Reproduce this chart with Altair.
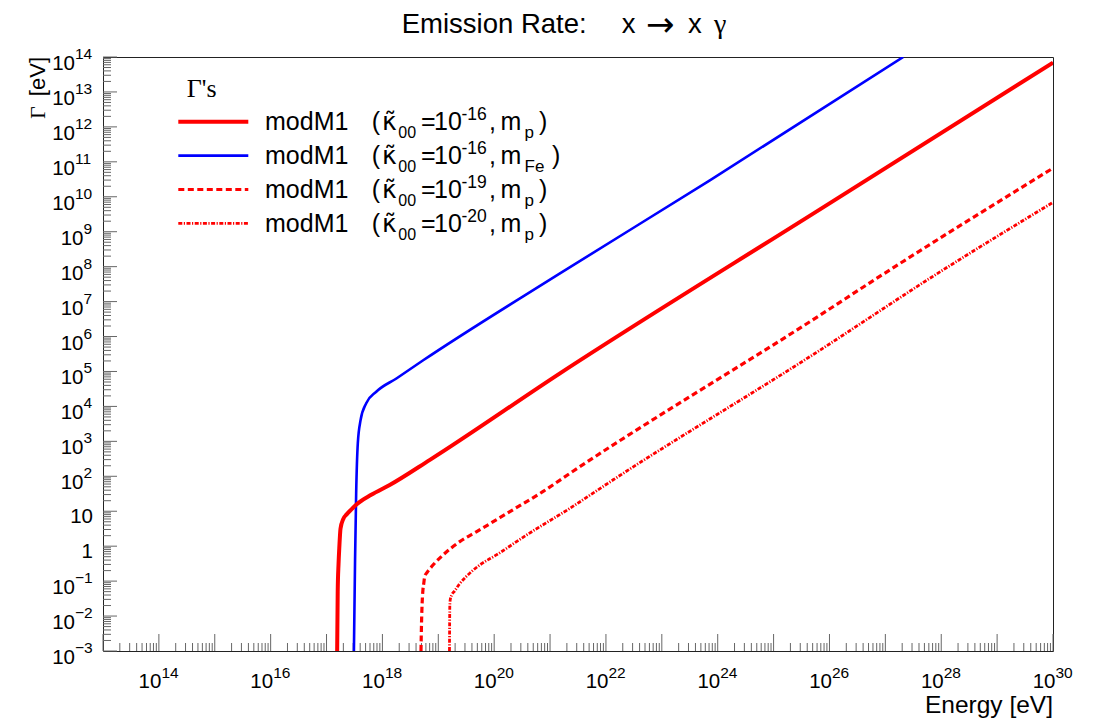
import altair as alt
import pandas as pd

# ---------------- values ----------------
# modM1 (kappa00 = 1e-16, m_p)  -- red solid
red16_E = [1.549e17, 1.585e17, 1.641e17, 1.698e17, 1.778e17, 1.995e17, 2.291e17, 2.818e17,
           3.467e17, 6.31e17, 1.349e18, 7.08e18, 1.479e21, 6.76e25, 1.0e30]
red16_G = [1e-3, 0.05, 0.316, 1.0, 3.16, 6.03, 8.13, 11.5, 15.8, 29.5, 56.2, 295, 8.71e4, 4.37e9, 6.92e13]
# modM1 (kappa00 = 1e-16, m_Fe) -- blue
fe16_E = [3.09e17, 3.24e17, 3.39e17, 3.63e17, 4.07e17, 5.13e17, 7.76e17, 1.78e18, 5.37e18,
          1.48e21, 7.24e23, 2.09e27]
fe16_G = [1e-3, 0.40, 31.6, 891, 4.07e3, 1.23e4, 2.63e4, 6.31e4, 2.09e5, 6.31e7, 2.95e10, 1e14]
# modM1 (kappa00 = 1e-19, m_p) -- red dashed
red19_E = [4.90e18, 5.01e18, 5.15e18, 5.31e18, 5.50e18, 5.71e18, 6.31e18, 7.08e18, 8.04e18,
           1.22e19, 2.42e19, 4.79e19, 1.91e20, 7.41e20, 2.24e21, 6.76e25, 6.92e26, 1e30]
red19_G = [1e-3, 6.3e-3, 2.51e-2, 5.62e-2, 8.71e-2, 0.135, 0.178, 0.226, 0.288, 0.562, 1.35, 2.57,
           9.77, 36.3, 120, 4.07e6, 4.57e7, 6.6e10]
# modM1 (kappa00 = 1e-20, m_p) -- red dash-dot
red20_E = [1.585e19, 1.596e19, 1.607e19, 1.641e19, 1.738e19, 1.968e19, 2.399e19, 3.162e19,
           5.495e19, 1.096e20, 3.802e20, 2.239e21, 1.349e22, 6.761e25, 6.166e27, 1e30]
red20_G = [1e-3, 6.3e-3, 2.0e-2, 3.02e-2, 3.98e-2, 5.25e-2, 8.32e-2, 0.135, 0.288, 0.562, 2.09,
           12.0, 79.4, 4.07e5, 4.57e7, 6.92e9]

x_label_exps = [14, 16, 18, 20, 22, 24, 26, 28, 30]
y_label_exps = list(range(-3, 15))
legend_kappa_exp = ["-16", "-16", "-19", "-20"]
legend_mass = ["p", "Fe", "p", "p"]

# ---------------- layout ----------------
W, H = 950, 594
OX, OY = 103, 57
SANS = "Liberation Sans"
SERIF = "Liberation Serif"
xs = alt.Scale(type="log", domain=[1e13, 1e30], nice=False)
ys = alt.Scale(type="log", domain=[1e-3, 1e14], nice=False)


def XE():
    return alt.X("E:Q", scale=xs, axis=None)


def YG():
    return alt.Y("G:Q", scale=ys, axis=None)


def px_text(rows, font=SANS, **kw):
    df = pd.DataFrame(rows, columns=["text", "px", "py", "size"])
    df["px"] = df["px"] - OX
    df["py"] = df["py"] - OY
    return alt.Chart(df).mark_text(font=font, baseline="alphabetic", color="black", **kw).encode(
        x=alt.X("px:Q", scale=None, axis=None),
        y=alt.Y("py:Q", scale=None, axis=None),
        text="text:N",
        size=alt.Size("size:Q", scale=None, legend=None),
    )


layers = []

# ticks (inside the frame)
maj_x = pd.DataFrame({"E": [10.0 ** k for k in range(13, 31)]})
min_x = pd.DataFrame({"E": [m * 10.0 ** k for k in range(13, 30) for m in range(2, 10)]})
maj_y = pd.DataFrame({"G": [10.0 ** k for k in range(-3, 15)]})
min_y = pd.DataFrame({"G": [m * 10.0 ** k for k in range(-3, 14) for m in range(2, 10)]})
TC = "#666666"
layers.append(alt.Chart(maj_x).mark_rule(color=TC, strokeWidth=1).encode(
    x=XE(), y=alt.value(H), y2=alt.value(H - 17)))
layers.append(alt.Chart(min_x).mark_rule(color=TC, strokeWidth=1).encode(
    x=XE(), y=alt.value(H), y2=alt.value(H - 8)))
layers.append(alt.Chart(maj_y).mark_rule(color=TC, strokeWidth=1).encode(
    y=YG(), x=alt.value(0), x2=alt.value(14)))
layers.append(alt.Chart(min_y).mark_rule(color=TC, strokeWidth=1).encode(
    y=YG(), x=alt.value(0), x2=alt.value(8)))


# curves
def curve(E, G, **kw):
    df = pd.DataFrame({"E": E, "G": G})
    return alt.Chart(df).mark_line(interpolate="monotone", clip=True, **kw).encode(x=XE(), y=YG())


DASH = [6, 3.5]
DASHDOT = [4, 1.5, 1.2, 1.5]
layers.append(curve(red20_E, red20_G, color="#ff0000", strokeWidth=2.8, strokeDash=DASHDOT))
layers.append(curve(red19_E, red19_G, color="#ff0000", strokeWidth=3.2, strokeDash=DASH))
layers.append(curve(fe16_E, fe16_G, color="#0000ff", strokeWidth=2.6))
layers.append(curve(red16_E, red16_G, color="#ff0000", strokeWidth=4))


# tick labels, x
def sup(e):
    return str(e).replace("-", "\u2212")


xlab = pd.DataFrame({"E": [10.0 ** e for e in x_label_exps], "base": "10",
                     "sup": [sup(e) for e in x_label_exps]})
layers.append(alt.Chart(xlab).mark_text(font=SANS, fontSize=20.5, align="right", baseline="alphabetic",
                                        dx=2.5, color="black").encode(x=XE(), y=alt.value(H + 37), text="base:N"))
layers.append(alt.Chart(xlab).mark_text(font=SANS, fontSize=15.5, align="left", baseline="alphabetic",
                                        dx=2.5, color="black").encode(x=XE(), y=alt.value(H + 27), text="sup:N"))

# tick labels, y
ylab = pd.DataFrame({"G": [10.0 ** e for e in y_label_exps],
                     "base": ["1" if e == 0 else "10" for e in y_label_exps],
                     "sup": ["" if e in (0, 1) else sup(e) for e in y_label_exps],
                     "n": [0 if e in (0, 1) else len(str(e)) for e in y_label_exps]})
for n, jx in [(2, -28), (1, -19.5)]:
    sub = ylab[ylab["n"] == n]
    layers.append(alt.Chart(sub).mark_text(font=SANS, fontSize=20.5, align="right", baseline="alphabetic",
                                           dy=13, color="black").encode(y=YG(), x=alt.value(jx), text="base:N"))
    layers.append(alt.Chart(sub).mark_text(font=SANS, fontSize=15.5, align="left", baseline="alphabetic",
                                           dy=2, color="black").encode(y=YG(), x=alt.value(jx), text="sup:N"))
plain = ylab[ylab["n"] == 0]
layers.append(alt.Chart(plain).mark_text(font=SANS, fontSize=20.5, align="right", baseline="alphabetic",
                                         dy=12, color="black").encode(y=YG(), x=alt.value(-10), text="base:N"))

# axis titles
layers.append(px_text([("Energy [eV]", 1053, 713, 24.5)], align="right"))
layers.append(px_text([("[eV]", 45, 57, 22)], align="right", angle=270))
layers.append(px_text([("\u0393", 45, 119, 22)], font=SERIF, align="left", angle=270))

# title
layers.append(px_text([("Emission Rate:", 401.7, 33.3, 27.5), ("x", 621.7, 33.3, 27.5),
                       ("x", 688, 33.3, 27.5)], align="left"))
layers.append(px_text([("\u2192", 646, 36, 34)], font="DejaVu Sans", align="left"))
layers.append(px_text([("\u03b3", 714, 33.3, 28)], font=SERIF, align="left"))

# legend
layers.append(px_text([("\u0393's", 186.7, 96.7, 26)], font=SERIF, align="left"))
legend_styles = [
    dict(color="#ff0000", strokeWidth=4),
    dict(color="#0000ff", strokeWidth=2.6),
    dict(color="#ff0000", strokeWidth=3, strokeDash=DASH),
    dict(color="#ff0000", strokeWidth=2.6, strokeDash=DASHDOT),
]
rows = []
kappa_rows = []
for i, (kexp, mass) in enumerate(zip(legend_kappa_exp, legend_mass)):
    b = 130 + 33.9 * i
    ly = pd.DataFrame({"py": [b - 8.3 - OY]})
    layers.append(alt.Chart(ly).mark_rule(**legend_styles[i]).encode(
        x=alt.value(178.3 - OX), x2=alt.value(248.3 - OX), y=alt.Y("py:Q", scale=None, axis=None)))
    rows += [("modM1", 265, b, 25), ("(", 371.7, b, 25),
             ("00", 398.3, b + 8, 16), ("=", 421, b, 25), ("10", 434, b, 25),
             (kexp, 461.5, b - 10, 17.5), (",", 489, b, 25), ("m", 500.5, b, 25),
             (mass, 524.5, b + 8, 17), (")", 539 if mass == "p" else 552, b, 25)]
    kappa_rows.append(("\u03ba\u0303", 382, b, 25))
layers.append(px_text(rows, align="left"))
layers.append(px_text(kappa_rows, font="DejaVu Sans", align="left"))

chart = alt.layer(*layers).properties(
    width=W, height=H,
    autosize=alt.AutoSizeParams(type="none"),
    padding={"left": OX, "top": OY, "right": 1102 - OX - W, "bottom": 728 - OY - H},
    background="white",
).configure_view(stroke="#222222", strokeWidth=1)

chart.save("out.html", embed_options={"renderer": "svg", "actions": False})
